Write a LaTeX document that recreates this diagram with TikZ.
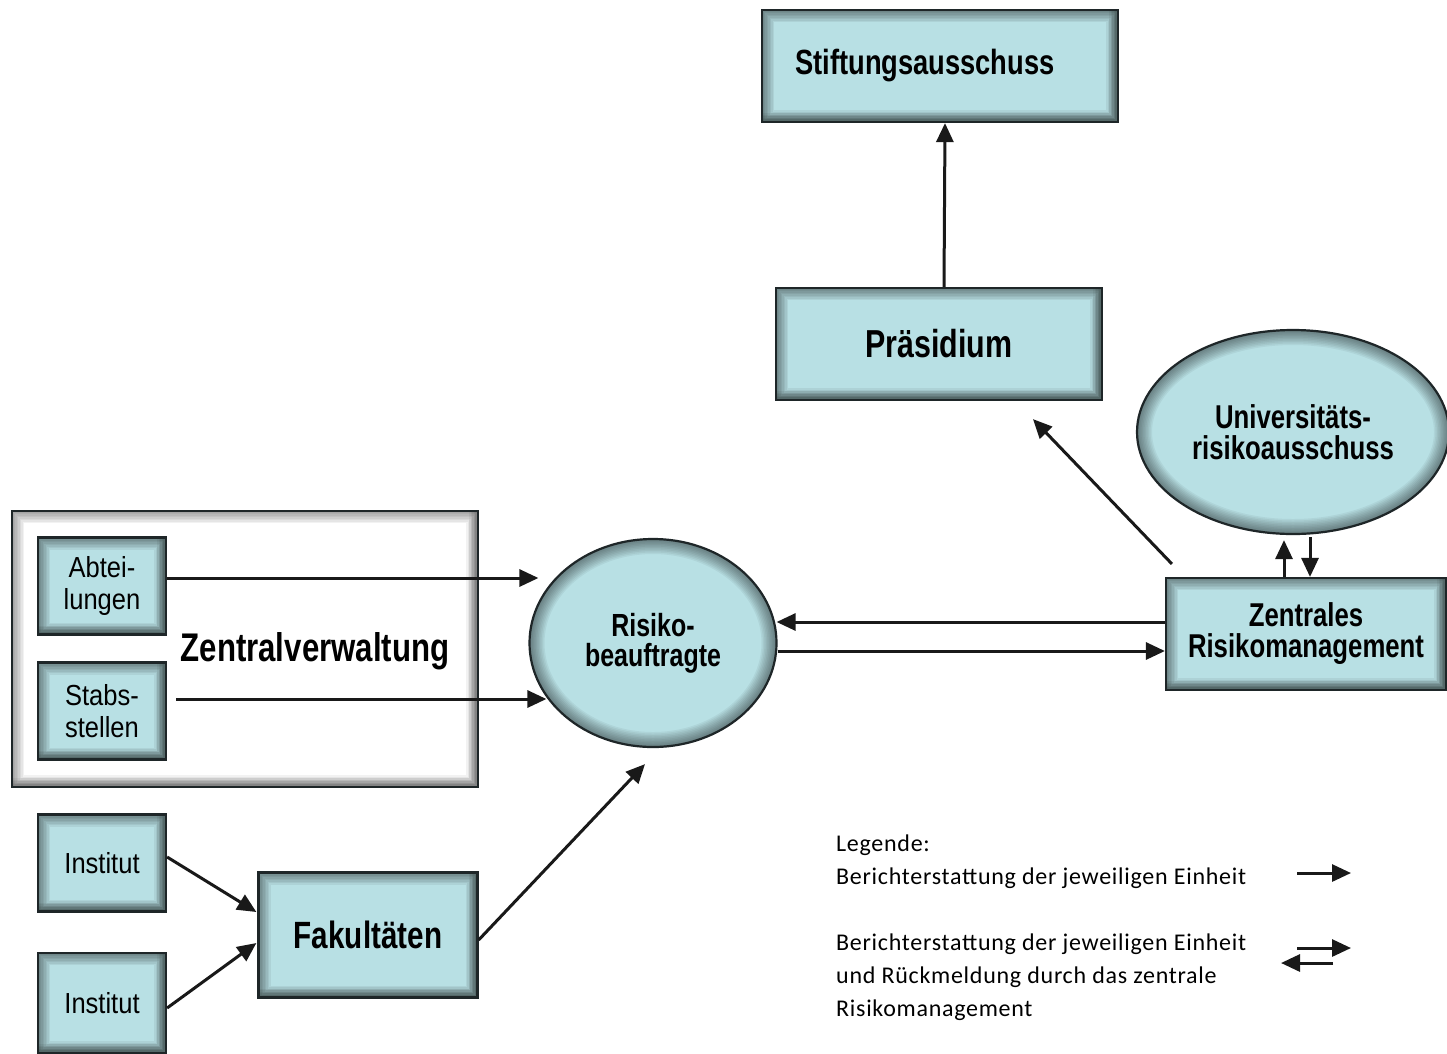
\documentclass[tikz,border=0pt]{standalone}
\usepackage{fontspec}
\setmainfont{Liberation Sans}
\newfontfamily\narrowbf[FakeStretch=0.78]{Liberation Sans Bold}
\newfontfamily\narrowrg[FakeStretch=0.88]{Liberation Sans}
\newfontfamily\legendfont[LetterSpace=3]{Carlito}
\usetikzlibrary{arrows.meta,shapes.geometric,calc}
\definecolor{boxfill}{RGB}{184,224,228}
\definecolor{boxedge}{RGB}{30,38,40}
\tikzset{
  innershadow/.style={path picture={
    \foreach \w in {3,6,...,24}{
      \draw[black,opacity=#1,line width=\w pt]
        (path picture bounding box.south west) rectangle (path picture bounding box.north east);}
    \foreach \w in {3,6,...,18}{
      \draw[black,opacity=#1,line width=\w pt]
        (path picture bounding box.south west) -- (path picture bounding box.south east) -- (path picture bounding box.north east);}
  }},
  ellglow/.style={path picture={
    \foreach \w in {3,6,...,30}{
      \draw[black,opacity=#1,line width=\w pt]
        let \p1=(path picture bounding box.north east), \p2=(path picture bounding box.center)
        in (\p2) ellipse [x radius={abs(\x1-\x2)}, y radius={abs(\y1-\y2)}];}
  }},
  box/.style={rectangle, draw=boxedge, line width=2.2pt, fill=boxfill, inner sep=0pt, align=center, innershadow=0.06},
  ell/.style={ellipse, draw=boxedge, line width=2.2pt, fill=boxfill, inner sep=0pt, align=center, ellglow=0.05},
  arr/.style={line width=3pt, draw=black!90, -{Triangle[length=19pt,width=17pt]}},
  bigbf/.style={font=\narrowbf\fontsize{35}{38}\selectfont},
  midbf/.style={font=\narrowbf\fontsize{33}{31}\selectfont},
  smallrg/.style={font=\narrowrg\fontsize{29}{32}\selectfont},
}
\begin{document}
\begin{tikzpicture}[x=1pt,y=-1pt]
\useasboundingbox (0,0) rectangle (1447,1053);
\fill[white] (0,0) rectangle (1447,1053);

% Zentralverwaltung frame
\node[rectangle, draw=boxedge, line width=2.4pt, fill=white, innershadow=0.05,
      minimum width=466pt, minimum height=276pt] (zv) at (245,649) {};
\node[font=\narrowbf\fontsize{40}{42}\selectfont] (zvl) at (315,651) {Zentralverwaltung};

% boxes
\node[box, bigbf, minimum width=356pt, minimum height=112pt] (stift) at (940,66) {Stiftungsausschuss\hspace*{30pt}};
\node[box, font=\narrowbf\fontsize{39}{40}\selectfont, minimum width=326pt, minimum height=112pt] (prae) at (939,344) {Präsidium};
\node[box, midbf, minimum width=280pt, minimum height=112pt] (zrm) at (1306,634) {Zentrales\\Risikomanagement};
\node[ell, midbf, minimum width=312pt, minimum height=204pt] (ura) at (1293,432) {Universitäts-\\risikoausschuss};
\node[ell, font=\narrowbf\fontsize{32}{30}\selectfont, minimum width=247pt, minimum height=208pt] (risk) at (653,643) {Risiko-\\beauftragte};

\node[box, smallrg, minimum width=128pt, minimum height=97pt] (abt) at (102,586) {Abtei-\\lungen};
\node[box, smallrg, minimum width=128pt, minimum height=97pt] (stab) at (102,711) {Stabs-\\stellen};
\node[box, smallrg, minimum width=128pt, minimum height=97pt] (inst1) at (102,863) {Institut};
\node[box, smallrg, minimum width=128pt, minimum height=100pt] (inst2) at (102,1003) {Institut};
\node[box, font=\narrowbf\fontsize{38}{40}\selectfont, minimum width=219pt, minimum height=125pt] (fak) at (368,935) {Fakultäten};

% connectors
\draw[arr] ([xshift=5pt]prae.north) -- ([xshift=5pt]stift.south);
\draw[arr] ([shift={(7,-13)}]zrm.north west) -- ([shift={(94,18)}]prae.south);
\draw[arr] ([shift={(-22,0)}]zrm.north) -- ([shift={(-9,5)}]ura.south);
\draw[arr] ([shift={(17,2)}]ura.south) -- ([shift={(4,0)}]zrm.north);
\draw[arr] ([shift={(0,-12)}]zrm.west) -- ([shift={(-1,-21)}]risk.east);
\draw[arr] ([shift={(0,8)}]risk.east) -- ([shift={(0,17)}]zrm.west);
\draw[arr] ([shift={(0,-8)}]abt.east) -- ([shift={(10,-65)}]risk.west);
\draw[arr] ([shift={(9,-12)}]stab.east) -- ([shift={(18,56)}]risk.west);
\draw[arr] ([shift={(0,-6)}]inst1.east) -- ([shift={(-1,-23)}]fak.west);
\draw[arr] ([shift={(0,5)}]inst2.east) -- ([shift={(-1,8)}]fak.west);
\draw[arr] ([shift={(0,5)}]fak.east) -- ([shift={(-8,16)}]risk.south);

% legend
\node[anchor=north west, align=left, inner sep=0pt,
      font=\legendfont\fontsize{24}{33}\selectfont] (leg) at (836,835)
  {Legende:\\Berichterstattung der jeweiligen Einheit\\[33pt]Berichterstattung der jeweiligen Einheit\\und Rückmeldung durch das zentrale\\Risikomanagement};
\coordinate (l1a) at (1297,873);
\coordinate (l1b) at (1351,873);
\coordinate (l2a) at (1297,948);
\coordinate (l2b) at (1351,948);
\coordinate (l3a) at (1333,963);
\coordinate (l3b) at (1281,963);
\draw[arr] (l1a) -- (l1b);
\draw[arr] (l2a) -- (l2b);
\draw[arr] (l3a) -- (l3b);
\end{tikzpicture}
\end{document}
